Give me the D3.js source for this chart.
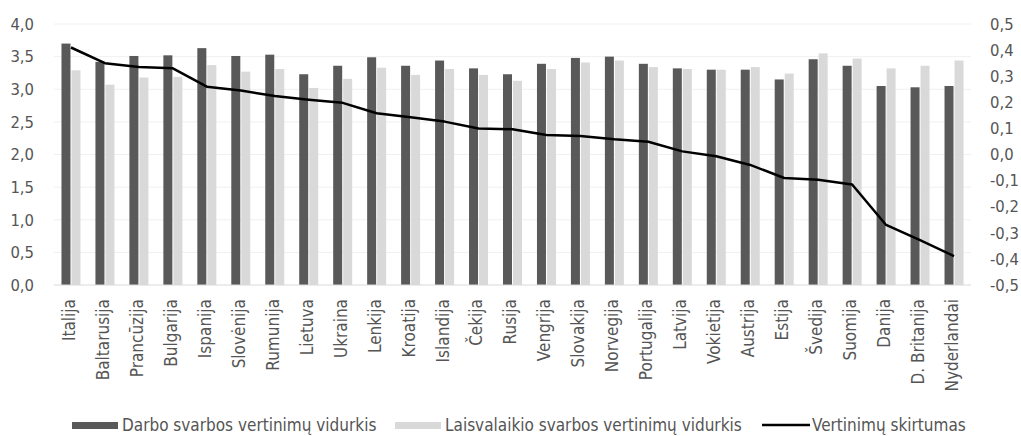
<!DOCTYPE html>
<html><head><meta charset="utf-8">
<script src="https://cdn.jsdelivr.net/npm/d3@7"></script>
<style>
body{margin:0;background:#fff;}
svg text{font-family:"Liberation Sans Narrow","DejaVu Sans Condensed","Roboto",sans-serif;font-stretch:condensed;fill:#555555;}
</style></head>
<body><svg id="c" width="1021" height="436"></svg>
<script>
const countries = ["Italija","Baltarusija","Prancūzija","Bulgarija","Ispanija","Slovėnija","Rumunija","Lietuva","Ukraina","Lenkija","Kroatija","Islandija","Čekija","Rusija","Vengrija","Slovakija","Norvegija","Portugalija","Latvija","Vokietija","Austrija","Estija","Švedija","Suomija","Danija","D. Britanija","Nyderlandai"];
const work = [3.70,3.42,3.51,3.52,3.63,3.51,3.53,3.23,3.36,3.49,3.36,3.44,3.32,3.23,3.39,3.48,3.50,3.39,3.32,3.30,3.30,3.15,3.46,3.36,3.05,3.03,3.05];
const leisure = [3.29,3.07,3.18,3.19,3.37,3.27,3.31,3.02,3.16,3.33,3.22,3.31,3.22,3.13,3.31,3.41,3.44,3.34,3.31,3.30,3.34,3.24,3.55,3.47,3.32,3.36,3.44];
const diff = [0.41,0.35,0.335,0.33,0.26,0.245,0.224,0.21,0.198,0.158,0.143,0.126,0.10,0.097,0.075,0.071,0.058,0.049,0.012,-0.007,-0.04,-0.09,-0.097,-0.115,-0.27,-0.328,-0.389];
const leftTicks = [0,0.5,1,1.5,2,2.5,3,3.5,4];
const rightTicks = [-0.5,-0.4,-0.3,-0.2,-0.1,0,0.1,0.2,0.3,0.4,0.5];
const seriesNames = ["Darbo svarbos vertinimų vidurkis","Laisvalaikio svarbos vertinimų vidurkis","Vertinimų skirtumas"];

const svg = d3.select("#c");
const x = d3.scaleBand().domain(countries).range([54,971]).padding(0);
const yL = d3.scaleLinear().domain([0,4]).range([285,24]);
const yR = d3.scaleLinear().domain([-0.5,0.5]).range([285,24]);
const fmt = v => d3.format(".1f")(v).replace(".",",").replace("−","-");

// gridlines
svg.append("g").selectAll("line").data(leftTicks.slice(1)).join("line")
  .attr("x1",54).attr("x2",971).attr("y1",d=>yL(d)).attr("y2",d=>yL(d))
  .attr("stroke","#f0f0f0").attr("stroke-width",1);

// bars
const cx = d => x(d) + x.bandwidth()/2;
svg.append("g").selectAll("rect").data(countries).join("rect")
  .attr("x",d=>cx(d)-9.5).attr("width",9)
  .attr("y",(d,i)=>yL(work[i])).attr("height",(d,i)=>yL(0)-yL(work[i]))
  .attr("fill","#595959");
svg.append("g").selectAll("rect").data(countries).join("rect")
  .attr("x",d=>cx(d)+0.5).attr("width",9)
  .attr("y",(d,i)=>yL(leisure[i])).attr("height",(d,i)=>yL(0)-yL(leisure[i]))
  .attr("fill","#d9d9d9");

// baseline
svg.append("line").attr("x1",54).attr("x2",971).attr("y1",yL(0)).attr("y2",yL(0))
  .attr("stroke","#d9d9d9").attr("stroke-width",1);

// line
svg.append("path").datum(countries)
  .attr("d",d3.line().x(d=>cx(d)).y((d,i)=>yR(diff[i])))
  .attr("fill","none").attr("stroke","#000").attr("stroke-width",2.5).attr("stroke-linejoin","round");

// axes
const aL = svg.append("g").attr("transform","translate(34,0)")
  .call(d3.axisLeft(yL).tickValues(leftTicks).tickFormat(fmt).tickSize(0).tickPadding(0));
aL.select(".domain").remove();
aL.selectAll("text").style("font-size","16.5px").attr("fill","#555555");
const aR = svg.append("g").attr("transform","translate(990,0)")
  .call(d3.axisRight(yR).tickValues(rightTicks).tickFormat(fmt).tickSize(0).tickPadding(0));
aR.select(".domain").remove();
aR.selectAll("text").style("font-size","16.5px").attr("fill","#555555");

// x labels
svg.append("g").selectAll("text").data(countries).join("text")
  .attr("transform",d=>`translate(${cx(d)-2},299) rotate(-90)`)
  .attr("text-anchor","end").attr("dy","0.35em")
  .style("font-size","17px").text(d=>d);

// legend
const lg = svg.append("g");
lg.append("rect").attr("x",72).attr("y",422).attr("width",46).attr("height",7).attr("fill","#595959");
lg.append("text").attr("x",122).attr("y",425).attr("dy","0.35em").style("font-size","17px").text(seriesNames[0]);
lg.append("rect").attr("x",395).attr("y",422).attr("width",46).attr("height",7).attr("fill","#d9d9d9");
lg.append("text").attr("x",445).attr("y",425).attr("dy","0.35em").style("font-size","17px").text(seriesNames[1]);
lg.append("line").attr("x1",762).attr("x2",810).attr("y1",425).attr("y2",425).attr("stroke","#000").attr("stroke-width",2.5);
lg.append("text").attr("x",812).attr("y",425).attr("dy","0.35em").style("font-size","17px").text(seriesNames[2]);
</script></body></html>
